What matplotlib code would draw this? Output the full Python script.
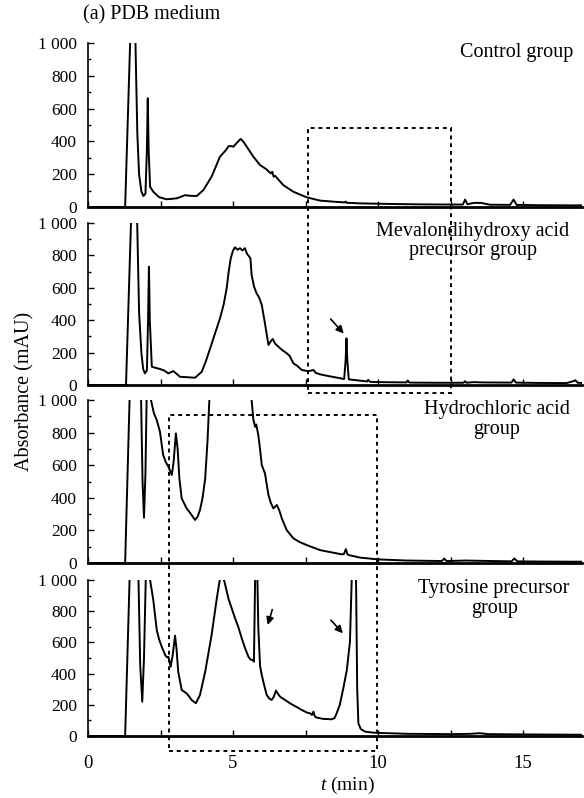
import matplotlib
matplotlib.use('Agg')
import matplotlib.pyplot as plt
from matplotlib.patches import Rectangle
from matplotlib.transforms import blended_transform_factory
from matplotlib.ticker import MultipleLocator

plt.rcParams['font.family'] = ['Liberation Serif', 'DejaVu Serif']
plt.rcParams['mathtext.fontset'] = 'custom'
plt.rcParams['mathtext.it'] = 'Liberation Serif:italic'
plt.rcParams['mathtext.rm'] = 'Liberation Serif'

# retention time (min) / absorbance (mAU)
t_ctrl = [0, 1.28, 1.46, 1.55, 1.63, 1.70, 1.76, 1.84, 1.91, 1.98,
          2.03, 2.06, 2.09, 2.14, 2.25, 2.45, 2.71, 2.90, 3.06, 3.20,
          3.34, 3.55, 3.75, 3.98, 4.26, 4.55, 4.76, 4.84, 4.90, 5.01,
          5.15, 5.26, 5.35, 5.47, 5.70, 5.93, 6.15, 6.30, 6.35, 6.40,
          6.45, 6.73, 7.08, 7.54, 8.00, 8.50, 8.85, 8.88, 8.92, 9.38,
          10.0, 10.6, 11.5, 12.5, 12.92, 13.0, 13.08, 13.3, 13.55, 13.85,
          14.55, 14.67, 14.78, 14.9, 15.5, 16.5, 17.1]
a_ctrl = [0, 0, 1050, 1500, 1050, 450, 200, 95, 67, 80,
          350, 663, 350, 124, 93, 60, 47, 50, 53, 62,
          72, 68, 67, 104, 185, 307, 348, 370, 372, 368,
          395, 415, 400, 368, 307, 256, 230, 205, 215, 185,
          190, 134, 93, 59, 39, 32, 28, 33, 26, 22,
          20, 18, 16, 15, 15, 45, 17, 25, 25, 14,
          13, 45, 12, 13, 11, 10, 10]

t_meva = [0, 1.31, 1.49, 1.58, 1.69, 1.76, 1.84, 1.90, 1.96, 2.03,
          2.07, 2.10, 2.13, 2.20, 2.35, 2.48, 2.62, 2.77, 2.94, 3.05,
          3.17, 3.45, 3.69, 3.92, 4.05, 4.21, 4.40, 4.55, 4.68, 4.78,
          4.85, 4.92, 5.00, 5.07, 5.15, 5.24, 5.32, 5.41, 5.48, 5.56,
          5.60, 5.64, 5.72, 5.81, 5.90, 5.99, 6.10, 6.22, 6.30, 6.37,
          6.45, 6.56, 6.70, 6.85, 6.95, 7.08, 7.20, 7.37, 7.60, 7.77,
          7.85, 8.00, 8.30, 8.60, 8.83, 8.88, 8.91, 8.94, 8.99, 9.38,
          9.62, 9.66, 9.72, 10.0, 10.5, 10.98, 11.02, 11.08, 12.0, 12.95,
          13.0, 13.05, 13.3, 13.6, 14.6, 14.67, 14.75, 15.5, 16.5, 16.75,
          16.8, 16.88, 17.1]
a_meva = [0, 0, 1050, 1500, 1050, 450, 200, 100, 72, 90,
          400, 730, 400, 113, 105, 99, 90, 72, 86, 70,
          51, 48, 45, 82, 140, 226, 330, 411, 500, 597,
          700, 782, 830, 850, 835, 844, 830, 844, 810, 792,
          780, 679, 610, 566, 540, 494, 380, 247, 270, 284,
          255, 237, 215, 196, 180, 134, 120, 93, 85, 93,
          75, 66, 55, 45, 37, 150, 288, 150, 35, 27,
          22, 32, 20, 18, 17, 16, 28, 15, 14, 14,
          24, 14, 18, 16, 15, 35, 15, 13, 12, 25,
          30, 14, 12]

t_hcl = [0, 1.28, 1.44, 1.55, 1.70, 1.83, 1.88, 1.93, 1.98, 2.02,
         2.08, 2.13, 2.17, 2.27, 2.37, 2.48, 2.59, 2.68, 2.77, 2.89,
         2.95, 3.03, 3.09, 3.15, 3.23, 3.40, 3.55, 3.69, 3.78, 3.86,
         3.95, 4.04, 4.12, 4.18, 4.30, 4.80, 5.40, 5.64, 5.70, 5.76,
         5.80, 5.87, 5.93, 5.99, 6.10, 6.22, 6.30, 6.39, 6.45, 6.51,
         6.60, 6.68, 6.85, 7.08, 7.30, 7.54, 8.00, 8.40, 8.75, 8.82,
         8.89, 8.94, 8.98, 9.38, 10.0, 11.0, 12.2, 12.28, 12.36, 13.0,
         14.6, 14.7, 14.8, 15.5, 16.5, 17.1]
a_hcl = [0, 0, 1050, 1500, 1500, 1000, 500, 278, 550, 1000,
         1400, 1200, 1000, 920, 877, 806, 663, 620, 591, 540,
         620, 795, 700, 519, 396, 335, 300, 264, 285, 325,
         400, 519, 750, 990, 1300, 1500, 1400, 1000, 880, 836,
         850, 785, 700, 601, 550, 417, 370, 335, 345, 356,
         320, 274, 202, 151, 128, 110, 79, 65, 53, 55,
         85, 55, 49, 33, 22, 15, 12, 27, 12, 15,
         10, 28, 10, 9, 8, 8]

t_tyr = [0, 1.28, 1.44, 1.55, 1.65, 1.74, 1.80, 1.87, 1.93, 1.99,
         2.05, 2.10, 2.14, 2.25, 2.37, 2.45, 2.54, 2.66, 2.72, 2.77,
         2.85, 2.92, 3.00, 3.05, 3.11, 3.23, 3.40, 3.50, 3.57, 3.72,
         3.86, 4.04, 4.26, 4.44, 4.55, 4.62, 4.69, 4.84, 4.95, 5.07,
         5.18, 5.30, 5.42, 5.53, 5.60, 5.68, 5.72, 5.76, 5.80, 5.84,
         5.87, 5.93, 5.99, 6.08, 6.16, 6.25, 6.33, 6.40, 6.48, 6.55,
         6.62, 6.80, 6.96, 7.15, 7.37, 7.55, 7.66, 7.72, 7.77, 7.82,
         7.88, 8.10, 8.40, 8.50, 8.57, 8.68, 8.80, 8.92, 9.03, 9.09,
         9.15, 9.24, 9.28, 9.32, 9.40, 9.55, 9.80, 10.0, 11.0, 12.5,
         13.2, 13.5, 13.8, 15.0, 16.0, 17.1]
a_tyr = [0, 0, 1050, 1500, 1400, 1000, 450, 220, 500, 1000,
         1400, 1200, 1000, 872, 679, 620, 573, 519, 505, 508,
         444, 520, 643, 560, 412, 295, 273, 250, 231, 210,
         263, 412, 647, 882, 1010, 1010, 1000, 882, 820, 754,
         700, 626, 560, 508, 490, 487, 476, 1000, 1500, 1000,
         700, 450, 391, 320, 263, 240, 231, 250, 291, 270,
         252, 230, 210, 190, 167, 150, 145, 135, 156, 125,
         118, 110, 107, 115, 145, 200, 305, 420, 604, 1000,
         1400, 1000, 300, 83, 45, 28, 22, 20, 14, 12,
         14, 18, 12, 10, 9, 8]

series = [(t_ctrl, a_ctrl), (t_meva, a_meva), (t_hcl, a_hcl), (t_tyr, a_tyr)]
group_labels = ['Control group', 'Mevalondihydroxy acid\nprecursor group',
                'Hydrochloric acid\ngroup', 'Tyrosine precursor\ngroup']
y_ticks = [0, 200, 400, 600, 800, 1000]
y_ticklabels = ['0', '200', '400', '600', '800', '1 000']
x_ticks = [0, 2.5, 5, 7.5, 10, 12.5, 15]
x_ticklabels = ['0', '', '5', '', '10', '', '15']

# arrows: (panel, tail, head)
arrows = [(1, (8.30, 420), (8.88, 305)),
          (3, (6.38, 827), (6.17, 695)),
          (3, (8.31, 756), (8.85, 645))]
# dashed boxes: x range in minutes, y range in figure fraction
boxes = [((7.6, 12.5), (0.5075, 0.8396)),
         ((2.8, 9.97), (0.0589, 0.4799))]

fs = 14.5
fs_tick = 12.5
fig = plt.figure(figsize=(5.84, 7.98), dpi=100)
left, right = 0.1507, 0.9966
panels = [(0.7406, 0.9461), (0.5175, 0.7206), (0.2945, 0.4987), (0.0777, 0.2732)]
label_pos = [(0.982, 0.94, 'right'), (0.779, 0.889, 'center'),
             (0.828, 0.880, 'center'), (0.822, 0.881, 'center')]

axes = []
for i, (b, t) in enumerate(panels):
    ax = fig.add_axes([left, b, right - left, t - b])
    tt, aa = series[i]
    ax.plot(tt, aa, color='black', lw=1.4)
    ax.set_xlim(0, 17.03)
    ax.set_ylim(0, 1000)
    ax.spines['top'].set_visible(False)
    ax.spines['right'].set_visible(False)
    ax.spines['bottom'].set_linewidth(2.0)
    ax.spines['left'].set_linewidth(1.2)
    ax.set_yticks(y_ticks)
    ax.set_yticklabels(y_ticklabels, fontsize=fs_tick)
    ax.yaxis.set_minor_locator(MultipleLocator(100))
    ax.set_xticks(x_ticks)
    if i == 3:
        ax.set_xticklabels(x_ticklabels, fontsize=fs_tick + 1)
    else:
        ax.set_xticklabels([])
    ax.tick_params(which='both', direction='in', width=1)
    ax.tick_params(which='major', length=4)
    ax.tick_params(which='minor', length=2.5)
    ax.tick_params(axis='y', pad=8)
    ax.tick_params(axis='x', pad=14)
    lx, ly, ha = label_pos[i]
    ax.text(lx, ly, group_labels[i], transform=ax.transAxes, ha=ha, va='center',
            multialignment='center', fontsize=fs, linespacing=1.05)
    axes.append(ax)

for k, tail, head in arrows:
    axes[k].annotate('', xy=head, xytext=tail,
                     arrowprops=dict(arrowstyle='-|>', color='black', lw=1.2,
                                     mutation_scale=11))

tr = blended_transform_factory(axes[3].transData, fig.transFigure)
for (x0, x1), (y0, y1) in boxes:
    fig.add_artist(Rectangle((x0, y0), x1 - x0, y1 - y0, transform=tr, fill=False,
                             ec='black', lw=1.4, ls=(0, (2, 2)), zorder=5))

fig.text(0.142, 0.981, '(a) PDB medium', fontsize=fs, va='center', ha='left')
fig.text(0.043, 0.51, 'Absorbance (mAU)', rotation=90, fontsize=fs, va='center', ha='center')
fig.text(0.595, 0.016, r'$t$ (min)', fontsize=fs - 0.5, ha='center', va='center')

fig.savefig('out.png', dpi=100)
